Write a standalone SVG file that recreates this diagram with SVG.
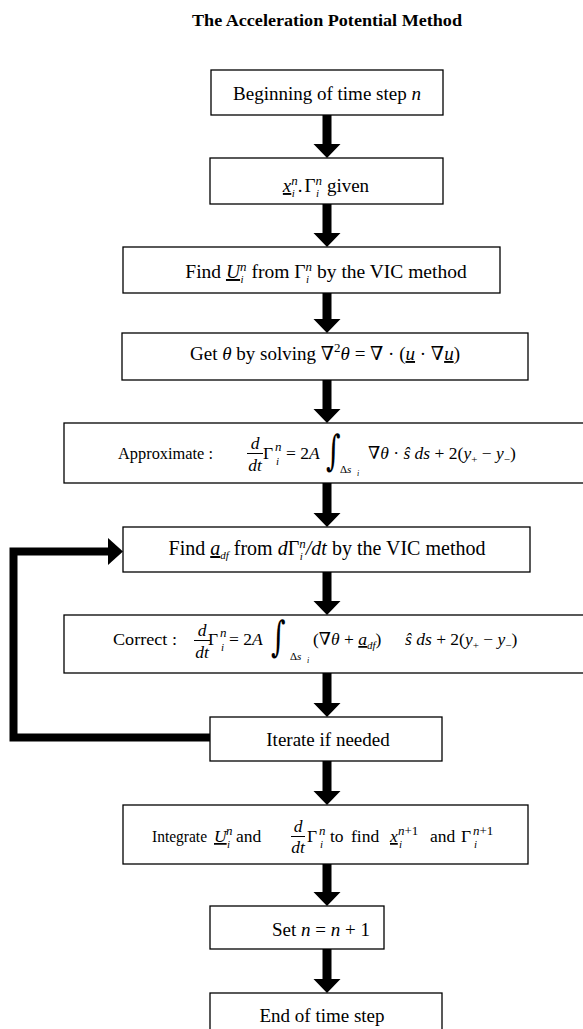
<svg xmlns="http://www.w3.org/2000/svg" width="583" height="1029" viewBox="0 0 583 1029">
<style>
.t{font-family:"Liberation Serif","DejaVu Serif",serif;font-size:19px;fill:#000}
.m{font-size:17.5px}
.i{font-style:italic}
.sp{font-size:13px}
.sb{font-size:11px}
.tiny{font-size:8px}
.u{text-decoration:underline}
.int{font-family:"DejaVu Serif","Liberation Serif",serif;font-size:28px;fill:#000}
.box{fill:#fff;stroke:#000;stroke-width:1.3}
.ul{stroke:#000;stroke-width:1}
.ar{fill:#000}
.fb{fill:none;stroke:#000;stroke-width:8;stroke-linejoin:miter}
</style>
<rect width="583" height="1029" fill="#fff"/>
<text x="327" y="26" text-anchor="middle" class="t" font-weight="bold" style="font-size:16px" textLength="270" lengthAdjust="spacingAndGlyphs">The Acceleration Potential Method</text>

<g id="connectors">
<path class="ar" d="M322.5,115 H331.5 V144 H340.5 L327,158 L313.5,144 H322.5 Z"/>
<path class="ar" d="M322.5,204 H331.5 V233 H340.5 L327,247 L313.5,233 H322.5 Z"/>
<path class="ar" d="M322.5,293 H331.5 V319 H340.5 L327,333 L313.5,319 H322.5 Z"/>
<path class="ar" d="M322.5,380 H331.5 V409 H340.5 L327,423 L313.5,409 H322.5 Z"/>
<path class="ar" d="M322.5,483 H331.5 V513 H340.5 L327,527 L313.5,513 H322.5 Z"/>
<path class="ar" d="M322.5,572 H331.5 V601 H340.5 L327,615 L313.5,601 H322.5 Z"/>
<path class="ar" d="M322.5,673 H331.5 V703 H340.5 L327,717 L313.5,703 H322.5 Z"/>
<path class="ar" d="M322.5,761 H331.5 V791 H340.5 L327,805 L313.5,791 H322.5 Z"/>
<path class="ar" d="M322.5,864 H331.5 V892 H340.5 L327,906 L313.5,892 H322.5 Z"/>
<path class="ar" d="M322.5,949 H331.5 V979 H340.5 L327,993 L313.5,979 H322.5 Z"/>
<path class="fb" d="M210,737.5 H13.5 V551.5 H109"/>
<path class="ar" d="M108,538 L123,551.5 L108,565 Z"/>
</g>

<g id="n1">
<rect class="box" x="211" y="70" width="232" height="45"/>
<text x="327" y="100" class="t" text-anchor="middle">Beginning of time step <tspan class="i">n</tspan></text>
</g>

<g id="n2">
<rect class="box" x="210" y="158" width="233" height="46"/>
<text x="326" y="192" class="t" text-anchor="middle"><tspan class="i u">x</tspan><tspan class="i sp" dy="-7">n</tspan><tspan class="i sb" dx="-6" dy="12">i</tspan><tspan dx="3" dy="-5">.</tspan><tspan dx="2">Γ</tspan><tspan class="i sp" dy="-7">n</tspan><tspan class="i sb" dx="-6" dy="12">i</tspan><tspan dx="3" dy="-5"> given</tspan></text>
</g>

<g id="n3">
<rect class="box" x="123" y="247" width="377" height="46"/>
<text x="326" y="278" class="t" style="font-size:19.5px" text-anchor="middle">Find <tspan class="i u">U</tspan><tspan class="i sp" dy="-7">n</tspan><tspan class="i sb" dx="-6" dy="12">i</tspan><tspan dx="3" dy="-5"> from Γ</tspan><tspan class="i sp" dy="-7">n</tspan><tspan class="i sb" dx="-6" dy="12">i</tspan><tspan dx="3" dy="-5"> by the VIC method</tspan></text>
</g>

<g id="n4">
<rect class="box" x="122" y="333" width="406" height="47"/>
<text x="325" y="360" class="t" text-anchor="middle">Get <tspan class="i">θ</tspan> by solving ∇<tspan class="sp" dy="-8">2</tspan><tspan class="i" dy="8">θ</tspan> = ∇ · (<tspan class="i u">u</tspan> · ∇<tspan class="i u">u</tspan>)</text>
</g>

<g id="n5">
<rect class="box" x="64" y="423" width="525" height="60"/>
<text x="118" y="459" class="t m" textLength="95" lengthAdjust="spacingAndGlyphs">Approximate :</text>
<text x="255" y="449" class="t m i" text-anchor="middle">d</text>
<line class="ul" x1="247" y1="453.5" x2="263" y2="453.5"/>
<text x="255" y="471" class="t m i" text-anchor="middle">dt</text>
<text x="263" y="459" class="t m">Γ</text>
<text x="275" y="451" class="t i sp">n</text>
<text x="276" y="465" class="t i sb">i</text>
<text x="286" y="459" class="t m">= 2<tspan class="i">A</tspan></text>
<text class="int" transform="translate(326,465) scale(1,1.5)">∫</text>
<text x="340" y="473" class="t sb">Δ<tspan class="i">s</tspan></text>
<text x="357" y="476" class="t i tiny">i</text>
<text x="368" y="459" class="t m">∇<tspan class="i">θ</tspan> · <tspan class="i">ŝ ds</tspan> + 2(<tspan class="i">y</tspan><tspan class="sb" dy="4">+</tspan><tspan dy="-4"> − </tspan><tspan class="i">y</tspan><tspan class="sb" dy="4">−</tspan><tspan dy="-4">)</tspan></text>
</g>

<g id="n6">
<rect class="box" x="123" y="527" width="407" height="45"/>
<text x="327" y="555" class="t" style="font-size:20px" text-anchor="middle">Find <tspan class="i u">a</tspan><tspan class="i sb" dy="4">df</tspan><tspan dy="-4"> from </tspan><tspan class="i">d</tspan>Γ<tspan class="i sp" dy="-7">n</tspan><tspan class="i sb" dx="-6" dy="12">i</tspan><tspan class="i" dx="3" dy="-5">/dt</tspan> by the VIC method</text>
</g>

<g id="n7">
<rect class="box" x="64" y="615" width="525" height="58"/>
<text x="113" y="645" class="t m" textLength="64" lengthAdjust="spacingAndGlyphs">Correct :</text>
<text x="202" y="636" class="t m i" text-anchor="middle">d</text>
<line class="ul" x1="194" y1="640.5" x2="210" y2="640.5"/>
<text x="202" y="658" class="t m i" text-anchor="middle">dt</text>
<text x="208" y="645" class="t m">Γ</text>
<text x="220" y="637" class="t i sp">n</text>
<text x="221" y="651" class="t i sb">i</text>
<text x="229" y="645" class="t m">= 2<tspan class="i">A</tspan></text>
<text class="int" transform="translate(271,651) scale(1,1.5)">∫</text>
<text x="290" y="660" class="t sb">Δ<tspan class="i">s</tspan></text>
<text x="307" y="663" class="t i tiny">i</text>
<text x="313" y="645" class="t m">(∇<tspan class="i">θ</tspan> + <tspan class="i u">a</tspan><tspan class="i sb" dy="4">df</tspan><tspan dy="-4">)</tspan></text>
<text x="405" y="645" class="t m"><tspan class="i">ŝ ds</tspan> + 2(<tspan class="i">y</tspan><tspan class="sb" dy="4">+</tspan><tspan dy="-4"> − </tspan><tspan class="i">y</tspan><tspan class="sb" dy="4">−</tspan><tspan dy="-4">)</tspan></text>
</g>

<g id="n8">
<rect class="box" x="210" y="717" width="232" height="44"/>
<text x="328" y="746" class="t" text-anchor="middle">Iterate if needed</text>
</g>

<g id="n9">
<rect class="box" x="123" y="805" width="405" height="59"/>
<text x="152" y="842" class="t m" textLength="55" lengthAdjust="spacingAndGlyphs">Integrate</text>
<text x="214" y="842" class="t m i u">U</text>
<text x="226" y="835" class="t i sp">n</text>
<text x="227" y="848" class="t i sb">i</text>
<text x="236" y="842" class="t m">and</text>
<text x="298" y="832" class="t m i" text-anchor="middle">d</text>
<line class="ul" x1="291" y1="836.5" x2="305" y2="836.5"/>
<text x="298" y="853" class="t m i" text-anchor="middle">dt</text>
<text x="307" y="842" class="t m">Γ</text>
<text x="319" y="835" class="t i sp">n</text>
<text x="320" y="848" class="t i sb">i</text>
<text x="330" y="842" class="t m">to</text>
<text x="351" y="842" class="t m">find</text>
<text x="390" y="842" class="t m i u">x</text>
<text x="398" y="835" class="t sp"><tspan class="i">n</tspan>+1</text>
<text x="399" y="848" class="t i sb">i</text>
<text x="430" y="842" class="t m">and</text>
<text x="461" y="842" class="t m">Γ</text>
<text x="473" y="835" class="t sp"><tspan class="i">n</tspan>+1</text>
<text x="474" y="848" class="t i sb">i</text>
</g>

<g id="n10">
<rect class="box" x="210" y="906" width="174" height="43"/>
<text x="321" y="936" class="t" text-anchor="middle">Set <tspan class="i">n</tspan> = <tspan class="i">n</tspan> + 1</text>
</g>

<g id="n11">
<rect class="box" x="210" y="993" width="232" height="50"/>
<text x="322" y="1022" class="t" text-anchor="middle">End of time step</text>
</g>
</svg>
